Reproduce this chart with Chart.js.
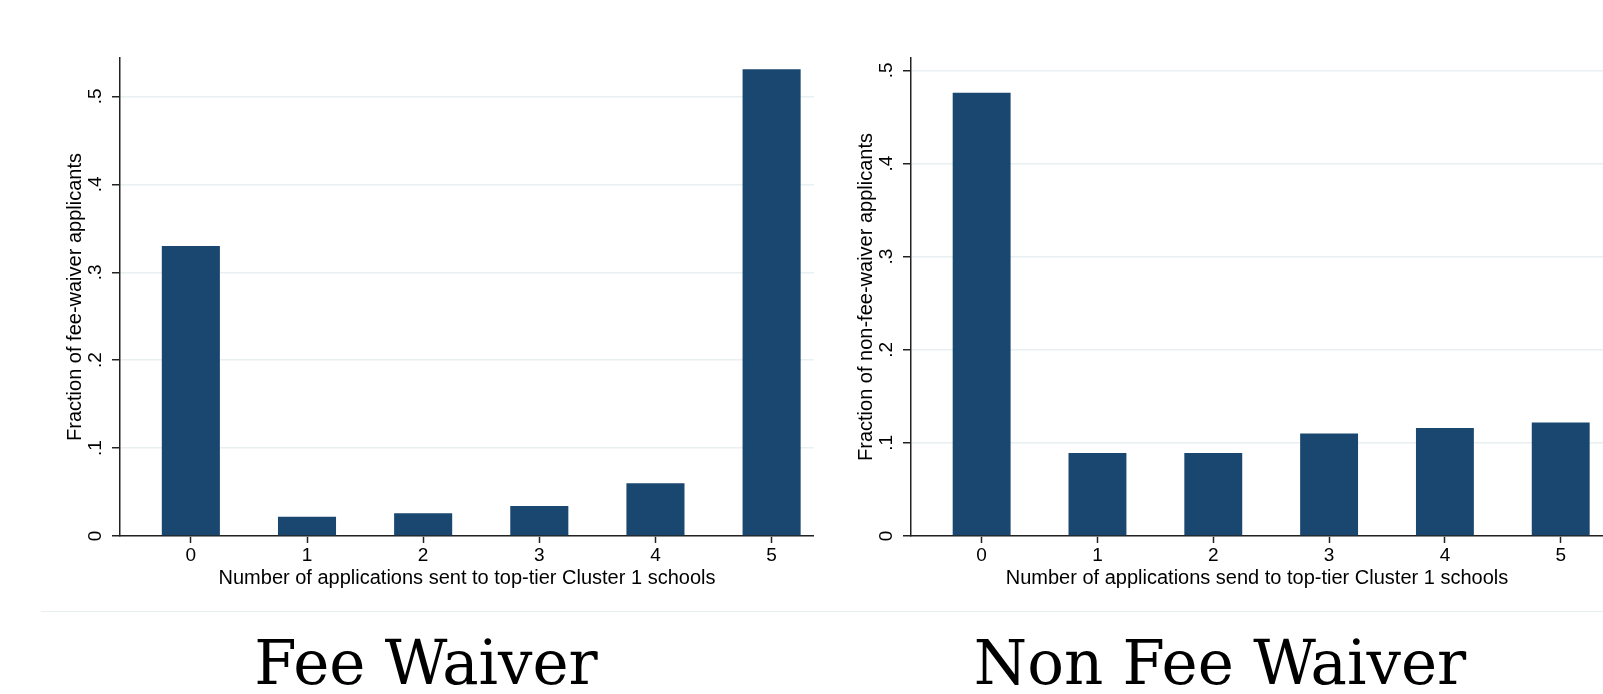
<!DOCTYPE html>
<html>
<head>
<meta charset="utf-8">
<script src="https://cdn.jsdelivr.net/npm/chart.js@4.4.0/dist/chart.umd.min.js"></script>
<style>
  html, body { margin: 0; padding: 0; background: #ffffff; overflow: hidden; }
  body { width: 1603px; height: 694px; position: relative; }
  .panel { position: absolute; top: 0; }
  #left-wrap  { left: 0px;   width: 814px; height: 610px; }
  #right-wrap { left: 791px; width: 812px; height: 610px; }
  .sep { position: absolute; left: 41px; top: 611px; width: 1562px; height: 0; border-top: 1.5px solid #e6eeef; }
  .big-title {
    position: absolute; top: 632px; text-align: center;
    font-family: "DejaVu Serif", serif; font-size: 61px; line-height: 1; color: #000;
  }
</style>
</head>
<body>

<div class="panel" id="left-wrap"><canvas id="feeChart"></canvas></div>
<div class="panel" id="right-wrap"><canvas id="nonFeeChart"></canvas></div>
<div class="sep"></div>
<div class="big-title" style="left:0px; width:852px;">Fee Waiver</div>
<div class="big-title" style="left:820px; width:800px;">Non Fee Waiver</div>

<script>
// ---------------------------- Data ----------------------------------
const categories = [0, 1, 2, 3, 4, 5];              // number of applications
const feeWaiver = [0.330, 0.022, 0.026, 0.034, 0.060, 0.531];
const nonFeeWaiver = [0.476, 0.089, 0.089, 0.110, 0.116, 0.122];
const yTicks = [0, 0.1, 0.2, 0.3, 0.4, 0.5];

const barColor = "#1a476f";
const axisColor = "#222222";
const gridColor = "#e8f0f1";
const fontFamily = "'Liberation Sans', Arial, sans-serif";

// format .1 .2 ... like Stata does
function stataLabel(v) {
  if (v === 0) return "0";
  return String(Math.round(v * 10) / 10).replace(/^0/, "");
}

// ------------------------ Build one panel ---------------------------
function makeChart(canvasId, values, yMax, yTitle, xTitle) {
  const points = categories.map((c, i) => ({x: c, y: values[i]}));

  return new Chart(document.getElementById(canvasId), {
    type: 'bar',
    data: {
      datasets: [{
        data: points,
        backgroundColor: barColor,
        borderWidth: 0,
        barPercentage: 0.5,
        categoryPercentage: 1.0
      }]
    },
    options: {
      responsive: true,
      maintainAspectRatio: false,
      animation: false,
      layout: { padding: { left: 0, top: 58, right: 0, bottom: 0 } },
      plugins: {
        legend: { display: false },
        tooltip: { enabled: false }
      },
      scales: {
        x: {
          type: 'linear',
          min: -0.61,
          max: 5.365,
          offset: false,
          z: 1,
          afterBuildTicks: function(axis) {
            axis.ticks = categories.map(v => ({value: v}));
          },
          afterFit: function(axis) { axis.height = 74; },
          ticks: {
            color: "#000",
            padding: 1,
            font: { family: fontFamily, size: 19 },
            callback: v => String(v)
          },
          grid: {
            offset: false,
            drawOnChartArea: false,
            drawTicks: true,
            tickLength: 7,
            tickColor: axisColor,
            tickWidth: 1.5
          },
          border: { display: true, color: axisColor, width: 1.5 },
          title: {
            display: true,
            text: xTitle,
            color: "#000",
            font: { family: fontFamily, size: 20 },
            padding: { top: 0, bottom: 20 }
          }
        },
        y: {
          min: 0,
          max: yMax,
          afterBuildTicks: function(axis) {
            axis.ticks = yTicks.map(v => ({value: v}));
          },
          afterFit: function(axis) { axis.width = 120; },
          ticks: {
            color: "#000",
            padding: 8,
            minRotation: 90,
            maxRotation: 90,
            crossAlign: 'center',
            font: { family: fontFamily, size: 19 },
            callback: v => stataLabel(v)
          },
          grid: {
            color: gridColor,
            lineWidth: 1.5,
            drawTicks: true,
            tickLength: 8,
            tickColor: axisColor,
            tickWidth: 1.5
          },
          border: { display: true, color: axisColor, width: 1.5 },
          title: {
            display: true,
            text: yTitle,
            color: "#000",
            font: { family: fontFamily, size: 20 },
            padding: { top: 63, bottom: 0 }
          }
        }
      }
    }
  });
}

// --------------------------- Draw it --------------------------------
makeChart('feeChart', feeWaiver, 0.5437,
  "Fraction of fee-waiver applicants",
  "Number of applications sent to top-tier Cluster 1 schools");

makeChart('nonFeeChart', nonFeeWaiver, 0.5133,
  "Fraction of non-fee-waiver applicants",
  "Number of applications send to top-tier Cluster 1 schools");
</script>
</body>
</html>
